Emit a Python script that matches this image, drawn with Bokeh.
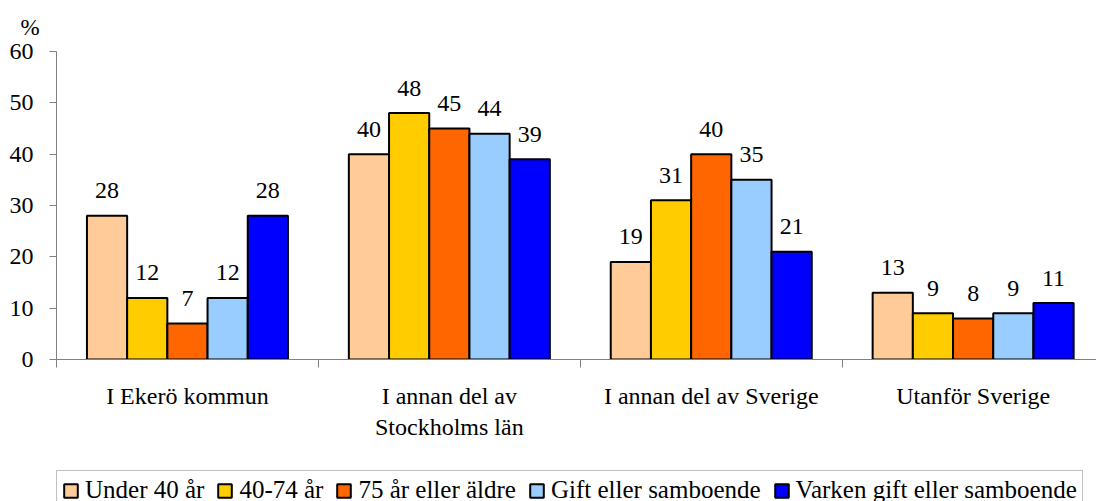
from bokeh.plotting import figure
from bokeh.layouts import column
from bokeh.models import (Range1d, FixedTicker, LinearAxis, Legend, LegendItem,
                          ColumnDataSource)
from bokeh.core.properties import value
from bokeh.embed import file_html
from bokeh.resources import INLINE

categories = ["I Ekerö kommun", "I annan del av\nStockholms län",
              "I annan del av Sverige", "Utanför Sverige"]
series = ["Under 40 år", "40-74 år", "75 år eller äldre",
          "Gift eller samboende", "Varken gift eller samboende"]
colors = ["#FFCC99", "#FFCC00", "#FF6600", "#99CCFF", "#0000FF"]
under_40 = [28, 40, 19, 13]
age_40_74 = [12, 48, 31, 9]
age_75_plus = [7, 45, 40, 8]
gift_sambo = [12, 44, 35, 9]
varken = [28, 39, 21, 11]
values = [under_40, age_40_74, age_75_plus, gift_sambo, varken]
y_ticks = [0, 10, 20, 30, 40, 50, 60]

FONT = "Liberation Serif"
GRAY = "#808080"

p = figure(frame_width=1040, frame_height=308, x_range=Range1d(0, 3.971), y_range=Range1d(0, 60),
           output_backend="svg", toolbar_location=None,
           min_border_left=56, min_border_right=0, min_border_top=50, min_border_bottom=107,
           x_axis_location=None, y_axis_location=None)
p.grid.visible = False
p.outline_line_color = None
p.background_fill_color = "white"

# "%" title above the y axis
p.title.text = "%"
p.title.align = "left"
p.title.offset = -36
p.title.text_font = FONT
p.title.text_font_size = "23px"
p.title.text_font_style = "normal"
p.title.text_color = "black"
p.title.standoff = 24

# y axis
ya = LinearAxis(ticker=FixedTicker(ticks=y_ticks))
ya.axis_line_color = GRAY
ya.major_tick_line_color = GRAY
ya.major_tick_out = 7
ya.major_tick_in = 0
ya.minor_tick_line_color = None
ya.major_label_text_font = FONT
ya.major_label_text_font_size = "24px"
ya.major_label_text_color = "black"
ya.major_label_standoff = 16
p.add_layout(ya, "left")

# x axis: boundary ticks as minor ticks, category names at centres
centers = [i + 0.5 for i in range(len(categories))]
xa = LinearAxis(ticker=FixedTicker(ticks=centers, minor_ticks=[0, 1, 2, 3, 4]))
xa.axis_line_color = GRAY
xa.major_tick_line_color = None
xa.major_tick_out = 0
xa.major_tick_in = 0
xa.minor_tick_line_color = GRAY
xa.minor_tick_out = 8
xa.minor_tick_in = 0
xa.major_label_overrides = {c: name for c, name in zip(centers, categories)}
xa.major_label_text_font = FONT
xa.major_label_text_font_size = "24px"
xa.major_label_text_color = "black"
xa.major_label_standoff = 15
p.add_layout(xa, "below")

bw = 0.1535
sources = []
for j, (name, col, vals) in enumerate(zip(series, colors, values)):
    xs = [i + 0.5 + (j - 2) * bw for i in range(len(vals))]
    src = ColumnDataSource(dict(x=xs, top=vals, txt=[str(v) for v in vals]))
    sources.append(src)
    p.vbar(x="x", top="top", width=bw, bottom=0, source=src,
           fill_color=col, line_color="black", line_width=2)
    p.text(x="x", y="top", text="txt", source=src, text_align="center",
           text_baseline="alphabetic", y_offset=-25, text_font=value(FONT),
           text_font_size=value("24px"), text_color="black")

# legend strip below the chart
lf = figure(width=1096, height=36, x_range=Range1d(100, 101), y_range=Range1d(100, 101),
            output_backend="svg", toolbar_location=None,
            min_border_left=56, min_border_right=0, min_border_top=4, min_border_bottom=0,
            x_axis_location=None, y_axis_location=None)
lf.grid.visible = False
lf.outline_line_color = None
items = []
for name, col, src in zip(series, colors, sources):
    r = lf.vbar(x="x", top="top", width=bw, bottom=0, source=src,
                fill_color=col, line_color="black", line_width=2)
    items.append(LegendItem(label=name, renderers=[r]))
leg = Legend(items=items, orientation="horizontal", location="top_left")
leg.label_text_font = FONT
leg.label_text_font_size = "25px"
leg.label_text_color = "black"
leg.glyph_width = 17
leg.glyph_height = 17
leg.label_standoff = 6
leg.spacing = 12
leg.padding = 5
leg.border_line_color = GRAY
leg.border_line_width = 1
leg.margin = 0
lf.add_layout(leg, "center")

layout = column(p, lf, spacing=0)
open("out.html", "w").write(file_html(layout, INLINE))
